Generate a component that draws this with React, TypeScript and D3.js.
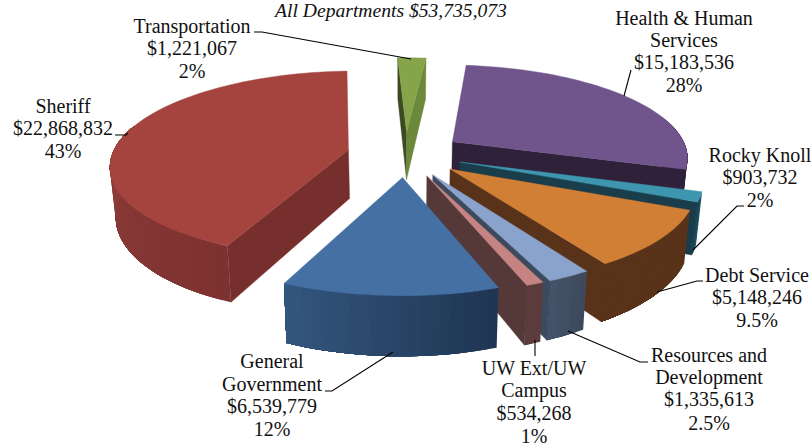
import React from "react";
import * as d3 from "d3";

const categories = ["Transportation", "Health & Human Services", "Rocky Knoll", "Debt Service", "Resources and Development", "UW Ext/UW Campus", "General Government", "Sheriff"];
const amounts = [1221067, 15183536, 903732, 5148246, 1335613, 534268, 6539779, 22868832];

const topColors = ["#86a44a", "#6f558b", "#3d96ae", "#d27f36", "#8aa3cd", "#c58481", "#4570a3", "#a5443f"];
const rimStart = ["#6c883a", "#2f2139", "#1f5566", "#58331a", "#3d4a5e", "#5b3b3b", "#1f3553", "#7c3230"];
const rimEnd = ["#6c883a", "#2f2139", "#1a4050", "#58331a", "#46536a", "#5b3b3b", "#34587f", "#a84a44"];
const cutStart = ["#3c4a22", "#2f2139", "#1a3d4b", "#58331a", "#3d4a5e", "#553939", "#1f3553", "#762f2c"];
const cutEnd = ["#6c883a", "#2f2139", "#1a3d4b", "#58331a", "#3d4a5e", "#553939", "#1f3553", "#762f2c"];
// back to front
const paintOrder = [0, 7, 1, 2, 3, 4, 5, 6];

const cx = 405, cy = 154, radius = 236, explode = 58, tilt = 0.39, persp = 0.00065, depth = 49, bottomShrink = 0.98;
const startDeg = -2.5;

const labels: { lines: string[]; x: number; y: number[] }[] = [
  { lines: ["Transportation", "$1,221,067", "2%"], x: 192, y: [33, 55, 78] },
  { lines: ["Health & Human", "Services", "$15,183,536", "28%"], x: 684, y: [25, 47, 69, 92] },
  { lines: ["Rocky Knoll", "$903,732", "2%"], x: 760, y: [162, 184, 207] },
  { lines: ["Debt Service", "$5,148,246", "9.5%"], x: 757, y: [282, 304, 327] },
  { lines: ["Resources and", "Development", "$1,335,613", "2.5%"], x: 709, y: [362, 384, 406, 430] },
  { lines: ["UW Ext/UW", "Campus", "$534,268", "1%"], x: 534, y: [375, 397, 420, 443] },
  { lines: ["General", "Government", "$6,539,779", "12%"], x: 272, y: [368, 391, 413, 436] },
  { lines: ["Sheriff", "$22,868,832", "43%"], x: 63, y: [113, 135, 158] },
];
const leaders: [number, number][][] = [
  [[254, 32], [262, 32], [411, 59]],
  [[631, 70], [624, 96]],
  [[744, 206], [737, 206], [693, 250]],
  [[703, 281], [697, 281], [657, 292]],
  [[568, 331], [640, 362], [648, 362]],
  [[535, 340], [535, 356]],
  [[325, 391], [332, 391], [393, 352]],
  [[115, 135], [126, 135], [128, 133]],
];

type P = [number, number];
const project = (X: number, Y: number, bottom: boolean): P => {
  const s = 1 / (1 - persp * Y);
  return bottom
    ? [cx + X * s * bottomShrink, cy + (tilt * Y + depth) * s]
    : [cx + X * s, cy + tilt * Y * s];
};
const lineGen = d3.line<P>();

export default function App() {
  const pie = d3.pie<number>().sort(null)
    .startAngle((startDeg * Math.PI) / 180)
    .endAngle(((startDeg + 360) * Math.PI) / 180);
  const arcs = pie(amounts);

  const slices = paintOrder.map((i) => {
    const a = arcs[i];
    const mid = (a.startAngle + a.endAngle) / 2;
    const ax = explode * Math.sin(mid), ay = -explode * Math.cos(mid);
    const rimAt = (t: number, b: boolean) => project(ax + radius * Math.sin(t), ay - radius * Math.cos(t), b);
    const n = Math.max(2, Math.ceil((a.endAngle - a.startAngle) / (Math.PI / 90)));
    const ts = d3.range(n + 1).map((k) => a.startAngle + ((a.endAngle - a.startAngle) * k) / n);
    const color = d3.interpolateRgb(rimStart[i], rimEnd[i]);
    const apexT = project(ax, ay, false), apexB = project(ax, ay, true);
    // only the part of the rim that faces the viewer is drawn
    const front = ts.filter((t) => Math.cos(t) < 0.3);
    // each strip runs to the far end of the rim, the next one paints over it, so no seams show
    const strips = front.slice(0, -1).map((t, k) => {
      const rest = front.slice(k);
      const pts = [...rest.map((u) => rimAt(u, false)), ...rest.slice().reverse().map((u) => rimAt(u, true))];
      return { d: lineGen(pts) + "Z", fill: color((t - a.startAngle) / (a.endAngle - a.startAngle)) };
    });
    const faces: { d: string; fill: string; ny: number }[] = [];
    const nyStart = -Math.cos(a.startAngle - Math.PI / 2);
    const nyEnd = -Math.cos(a.endAngle + Math.PI / 2);
    if (nyStart > 0) faces.push({ d: lineGen([apexT, rimAt(a.startAngle, false), rimAt(a.startAngle, true), apexB])! + "Z", fill: cutStart[i], ny: nyStart });
    if (nyEnd > 0) faces.push({ d: lineGen([apexT, rimAt(a.endAngle, false), rimAt(a.endAngle, true), apexB])! + "Z", fill: cutEnd[i], ny: nyEnd });
    faces.sort((p, q) => p.ny - q.ny);
    const top = lineGen([apexT, ...ts.map((t) => rimAt(t, false))])! + "Z";
    return { i, strips, faces, top };
  });

  return (
    <svg width={811} height={446} viewBox="0 0 811 446" style={{ position: "absolute", left: 0, top: 0, background: "#fff" }}>
      {slices.map((s) => (
        <g key={categories[s.i]}>
          {s.strips.map((st, k) => <path key={k} d={st.d} fill={st.fill} />)}
          {s.faces.map((f, k) => <path key={k} d={f.d} fill={f.fill} stroke={f.fill} strokeWidth={0.4} />)}
          <path d={s.top} fill={topColors[s.i]} stroke={topColors[s.i]} strokeWidth={0.4} />
        </g>
      ))}
      {leaders.map((l, i) => <path key={i} d={lineGen(l)!} fill="none" stroke="#000" strokeWidth={1.1} />)}
      <g fontFamily="'Liberation Serif', serif" fontSize={20} fill="#111" textAnchor="middle">
        <text x={391} y={17} fontStyle="italic" fontSize={19.6}>All Departments $53,735,073</text>
        {labels.map((l) => l.lines.map((t, k) => <text key={l.lines[0] + k} x={l.x} y={l.y[k]}>{t}</text>))}
      </g>
    </svg>
  );
}
